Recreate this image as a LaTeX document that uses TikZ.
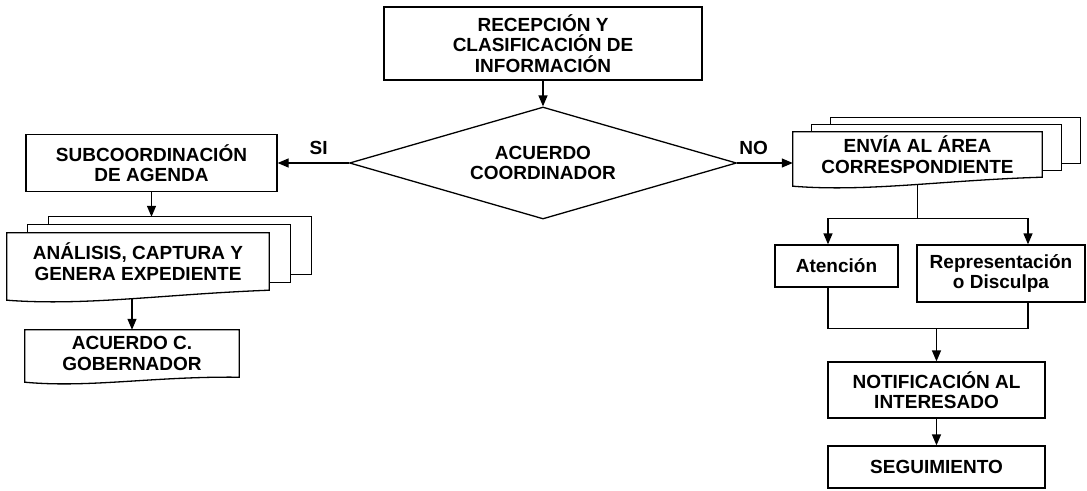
\documentclass[tikz,border=0pt]{standalone}
\usepackage{fontspec}
\setmainfont{Liberation Sans}
\usetikzlibrary{arrows.meta,shapes.geometric,calc}
\pgfdeclarelayer{background}
\pgfsetlayers{background,main}

\newcommand{\flowfont}{\fontsize{19}{20.5}\selectfont\bfseries}
% document outline: straight top and sides, wavy bottom that hangs #2 below the node
\newcommand{\docpath}[2]{(#1.north west) -- (#1.north east) -- (#1.south east)
  .. controls ($(#1.south west)!0.6!(#1.south east)+(0,#2-6)$) and ($(#1.south west)!0.3!(#1.south east)+(0,#2+6)$) .. ($(#1.south west)+(0,#2)$) -- cycle}

\tikzset{
  flow/.style={line width=1.3pt},
  box/.style={flow, draw, align=center, inner sep=0pt, font=\flowfont},
  doc/.style={align=center, inner sep=0pt, font=\flowfont},
  arr/.style={flow, -{Triangle[length=11pt,width=9pt]}},
  lbl/.style={inner sep=0pt, font=\flowfont},
}

\begin{document}
\begin{tikzpicture}[x=1pt,y=1pt,yscale=-1]
  \useasboundingbox (0,0) rectangle (1087,490);

  %Shape: Rectangle
  \node[box, minimum width=318pt, minimum height=73pt] (recep) at (543,43.5) {RECEPCIÓN Y\\CLASIFICACIÓN DE\\INFORMACIÓN};
  %Shape: Diamond
  \node[box, diamond, aspect=3.4, minimum width=387pt, minimum height=112pt] (decision) at (543,163) {ACUERDO\\COORDINADOR};

  %Shape: Rectangle
  \node[box, minimum width=251pt, minimum height=57pt] (subcoord) at (151.5,163) {SUBCOORDINACIÓN\\DE AGENDA};
  %Shape: Document
  \node[doc, minimum width=262pt, minimum height=57pt] (analisis) at (138,261.5) {ANÁLISIS, CAPTURA Y\\GENERA EXPEDIENTE};
  %Shape: Document
  \node[doc, minimum width=214pt, minimum height=47pt] (acuerdoc) at (132,353.5) {ACUERDO C.\\GOBERNADOR};

  %Shape: Document
  \node[doc, minimum width=249pt, minimum height=45pt] (envia) at (917.5,154.5) {ENVÍA AL ÁREA\\CORRESPONDIENTE};
  %Shape: Rectangle
  \node[box, minimum width=123pt, minimum height=42pt] (atencion) at (836.5,266) {Atención};
  %Shape: Rectangle
  \node[box, minimum width=168pt, minimum height=57pt] (repres) at (1001,273.5) {Representación\\o Disculpa};
  %Shape: Rectangle
  \node[box, minimum width=217pt, minimum height=56pt] (notif) at (936.5,390) {NOTIFICACIÓN AL\\INTERESADO};
  %Shape: Rectangle
  \node[box, minimum width=217pt, minimum height=42pt] (seguim) at (936.5,467) {SEGUIMIENTO};

  % stacked pages behind the documents
  \begin{pgfonlayer}{background}
    \foreach \k in {2,1}
      \draw[flow, fill=white] ($(analisis.north west)+(21*\k,-8*\k)$) rectangle ($(analisis.south east)+(21*\k,-8*\k)$);
    \draw[flow, fill=white] \docpath{analisis}{10};
    \foreach \k in {2,1}
      \draw[flow, fill=white] ($(envia.north west)+(19*\k,-7*\k)$) rectangle ($(envia.south east)+(19*\k,-7*\k)$);
    \draw[flow, fill=white] \docpath{envia}{9};
    \draw[flow, fill=white] \docpath{acuerdoc}{5};
  \end{pgfonlayer}

  %Straight Lines
  \draw[arr] (recep) -- (decision);
  \draw[arr] (decision.west) -- (subcoord.east);
  \draw[arr] (decision.east) -- (decision.east -| envia.west);
  % Text Node
  \node[lbl, anchor=south east] (si) at ($(decision.west)+(-21,-8)$) {SI};
  % Text Node
  \node[lbl, anchor=south west] (no) at ($(decision.east)+(2,-8)$) {NO};

  %Straight Lines
  \coordinate (analisistop) at ($(analisis.north)+(0,-16)$);
  \draw[arr] (subcoord.south) -- (subcoord.south |- analisistop);
  \draw[arr] ($(acuerdoc.north |- analisis.south)+(0,8)$) -- (acuerdoc.north);

  %Straight Lines
  \coordinate (split) at ($(envia.south)+(0,41)$);
  \draw[flow] ($(envia.south)+(0,7)$) -- (split);
  \draw[arr] (split) -| ($(atencion.north)+(-8.5,0)$);
  \draw[arr] (split) -| ($(repres.north)+(27,0)$);
  \coordinate (merge) at ($(notif.north)+(0,-33)$);
  \draw[flow] ($(atencion.south)+(-8.5,0)$) |- (merge) -| ($(repres.south)+(27,0)$);
  \draw[arr] (merge) -- (notif.north);
  \draw[arr] (notif) -- (seguim);
\end{tikzpicture}
\end{document}
